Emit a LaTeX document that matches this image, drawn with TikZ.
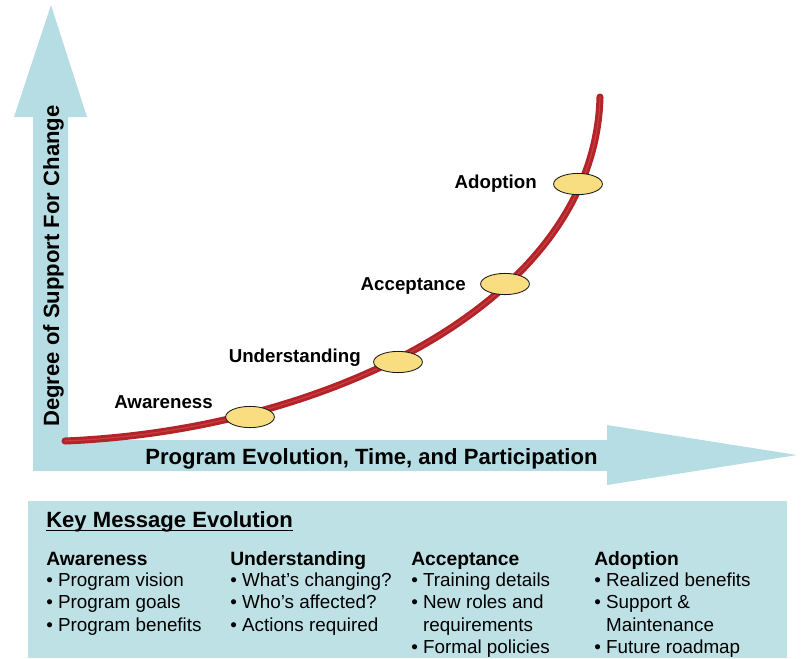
\documentclass[tikz,border=0pt]{standalone}
\usepackage{fontspec}
\setmainfont{Liberation Sans}
\usetikzlibrary{positioning,shapes.geometric}

\definecolor{axisblue}{RGB}{182,221,227}
\definecolor{boxblue}{RGB}{190,225,230}
\definecolor{tube}{RGB}{180,34,42}
\definecolor{tubelight}{RGB}{198,64,62}
\definecolor{stagefill}{RGB}{248,222,128}

\begin{document}
\begin{tikzpicture}[x=0.025cm, y=-0.025cm
        , every node/.style={ inner sep=0pt }
        , stage/.style={ ellipse, draw=black!90, line width=0.6pt, fill=stagefill,
            minimum width=1.22cm, minimum height=0.53cm }
        , stagelabel/.style={ font=\bfseries\fontsize{13.3}{16}\selectfont, anchor=base east }
        , axislabel/.style={ font=\bfseries\fontsize{15.7}{18}\selectfont, anchor=base west }
        , heading/.style={ font=\bfseries\fontsize{13.7}{16}\selectfont, anchor=base west }
        , itemlist/.style={ font=\fontsize{13.4}{15.9}\selectfont, align=left }
        ]

    \useasboundingbox (0,0) rectangle (801,658);

    % both axes as a single filled shape
    \fill[axisblue] (33,471) -- (33,117) -- (14,117) -- (51,5) -- (87,117) -- (68,117)
        -- (68,440) -- (607,440) -- (607,425) -- (797,455) -- (607,485) -- (607,471) -- cycle;

    \node[axislabel, rotate=90] (ylab) at (59,427) {Degree of Support For Change};
    \node[axislabel] (xlab) at (145,464) {Program Evolution, Time, and Participation};

    % growth curve
    \coordinate (start) at (65,441);
    \coordinate (end) at (600,97);
    \draw[draw=tube, line width=2.1pt, double=tubelight, double distance=0.8pt, line cap=round]
        (start) .. controls (330,430) and (595,300) .. (end);

    % stages along the curve
    \node[stage] (aw) at (250,417) {};
    \node[stage] (un) at (398,362) {};
    \node[stage] (ac) at (505,284) {};
    \node[stage] (ad) at (578,184) {};

    \node[stagelabel] (aw-l) at (213,408) {Awareness};
    \node[stagelabel] (un-l) at (361,362) {Understanding};
    \node[stagelabel] (ac-l) at (466,290) {Acceptance};
    \node[stagelabel] (ad-l) at (537,188) {Adoption};

    % message panel
    \fill[boxblue] (28,501) rectangle (787,658);

    \node[axislabel] (keymsg) at (46,527) {Key Message Evolution};
    \draw[line width=1.2pt] ([yshift=-2.4pt]keymsg.base west) -- ([yshift=-2.4pt]keymsg.base east);

    \foreach \x/\name/\txt in {46/aw/Awareness, 230/un/Understanding, 411/ac/Acceptance, 594/ad/Adoption}
        \node[heading] (\name-h) at (\x,565) {\txt};

    \node[itemlist, below=0.19cm of aw-h.base west, anchor=north west] (aw-list)
        {• Program vision\\• Program goals\\• Program benefits};
    \node[itemlist, below=0.19cm of un-h.base west, anchor=north west] (un-list)
        {• What's changing?\\• Who's affected?\\• Actions required};
    \node[itemlist, below=0.19cm of ac-h.base west, anchor=north west] (ac-list)
        {• Training details\\• New roles and\\\hphantom{• }requirements\\• Formal policies};
    \node[itemlist, below=0.19cm of ad-h.base west, anchor=north west] (ad-list)
        {• Realized benefits\\• Support \&\\\hphantom{• }Maintenance\\• Future roadmap};

\end{tikzpicture}
\end{document}
